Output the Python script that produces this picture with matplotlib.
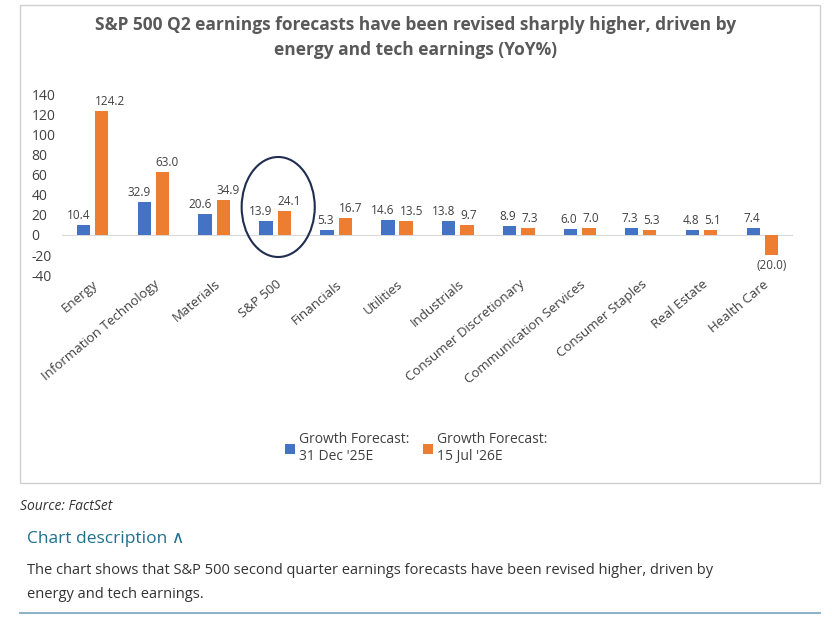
import matplotlib
matplotlib.use("Agg")
import matplotlib.pyplot as plt
from matplotlib.patches import Ellipse, Rectangle
import numpy as np

plt.rcParams['font.family'] = ['Open Sans', 'DejaVu Sans']

categories = ["Energy", "Information Technology", "Materials", "S&P 500", "Financials",
              "Utilities", "Industrials", "Consumer Discretionary", "Communication Services",
              "Consumer Staples", "Real Estate", "Health Care"]
dec25 = [10.4, 32.9, 20.6, 13.9, 5.3, 14.6, 13.8, 8.9, 6.0, 7.3, 4.8, 7.4]
jul26 = [124.2, 63.0, 34.9, 24.1, 16.7, 13.5, 9.7, 7.3, 7.0, 5.3, 5.1, -20.0]
yticks = [-40, -20, 0, 20, 40, 60, 80, 100, 120, 140]

blue = "#4472C4"
orange = "#ED7D31"

fig = plt.figure(figsize=(8.32, 6.27), dpi=100)
fig.patches.append(Rectangle((20/832, 1-483/627), 800/832, 478/627, transform=fig.transFigure,
                             fill=False, edgecolor="#d0d0d0", lw=1))
ax = fig.add_axes([0.0745, 0.5614, 0.8785, 0.2871])
x = np.arange(len(categories))
w = 0.22
ax.bar(x - 0.15, dec25, w, color=blue, label="Growth Forecast:\n31 Dec '25E")
ax.bar(x + 0.15, jul26, w, color=orange, label="Growth Forecast:\n15 Jul '26E")

def fmt(v):
    return f"({abs(v):.1f})" if v < 0 else f"{v:.1f}"

for i in x:
    ax.text(i - 0.04, max(dec25[i], 0) + 3, fmt(dec25[i]), ha="right", va="bottom", fontsize=8.5, color="#404040")
    if jul26[i] >= 0:
        ax.text(i + 0.04, jul26[i] + 3, fmt(jul26[i]), ha="left", va="bottom", fontsize=8.5, color="#404040")
    else:
        ax.text(i + 0.15, jul26[i] - 4, fmt(jul26[i]), ha="center", va="top", fontsize=8.5, color="#404040")

ax.set_ylim(-40, 140)
ax.set_xlim(-0.5, len(categories) - 0.5)
ax.set_yticks(yticks)
ax.set_yticklabels([str(t) for t in yticks], fontsize=10, color="#404040")
ax.tick_params(axis="y", length=0, pad=22)
for lab in ax.get_yticklabels():
    lab.set_horizontalalignment("left")
ax.set_xticks(x)
ax.set_xticklabels(categories, rotation=40, ha="right", rotation_mode="anchor", fontsize=9.5, color="#404040")
ax.tick_params(axis="x", length=0, pad=2)
for s in ax.spines.values():
    s.set_visible(False)
ax.axhline(0, color="#d9d9d9", lw=0.8, zorder=0)

ax.add_patch(Ellipse((3.05, 28), 1.2, 100, fill=False, edgecolor="#1f2d50", lw=1.5))

fig.text(0.5, 0.94, "S&P 500 Q2 earnings forecasts have been revised sharply higher, driven by\nenergy and tech earnings (YoY%)",
         ha="center", va="center", fontsize=12.5, fontweight="bold", color="#595959", linespacing=1.5)

fig.legend(loc="center", bbox_to_anchor=(0.5, 0.285), ncol=2, frameon=False, fontsize=10,
           handlelength=0.7, handleheight=0.7, columnspacing=1.0, handletextpad=0.3,
           labelcolor="#404040")

fig.text(20/832, 1-507/627, "Source: FactSet", fontsize=10, style="italic", color="#333333", va="center")
fig.text(27/832, 1-539/627, "Chart description \u2227", fontsize=12.5, color="#1f6f8b", va="center")
fig.text(27/832, 1-571/627, "The chart shows that S&P 500 second quarter earnings forecasts have been revised higher, driven by",
         fontsize=10.5, color="#333333", va="center")
fig.text(27/832, 1-594/627, "energy and tech earnings.", fontsize=10.5, color="#333333", va="center")
fig.add_artist(plt.Line2D([20/832, 820/832], [1-613/627]*2, color="#8fb3c6", lw=1.5))

fig.savefig("out.png", dpi=100)
